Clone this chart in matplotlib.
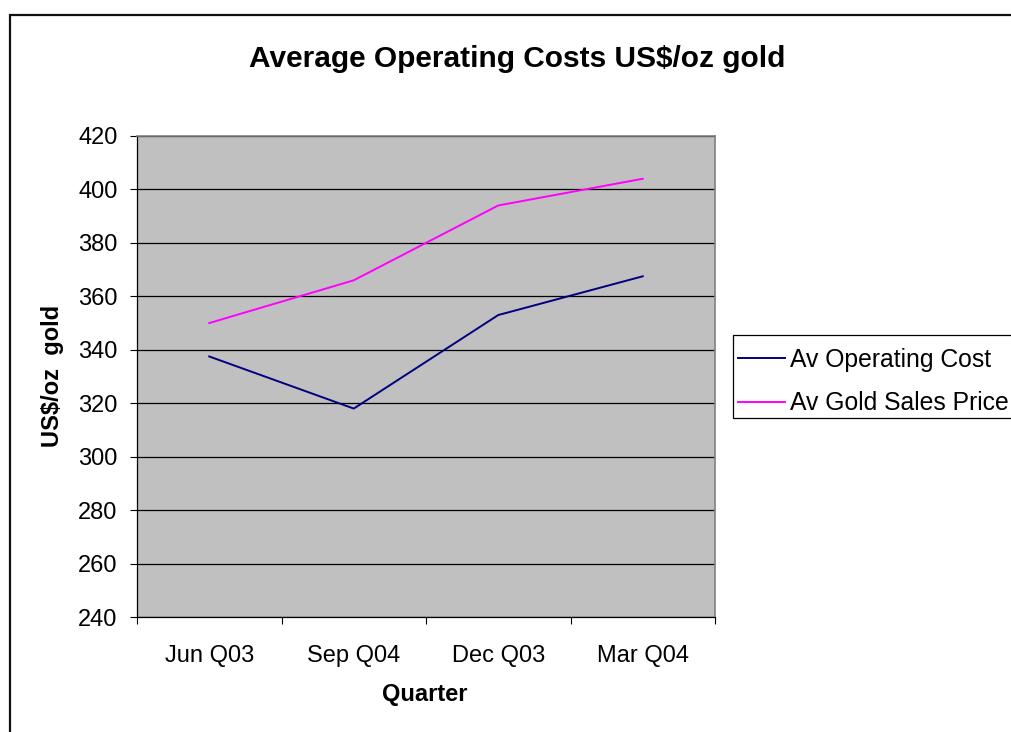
import matplotlib
matplotlib.use("Agg")
import matplotlib.pyplot as plt
from matplotlib.patches import Rectangle
from matplotlib.ticker import FixedLocator, NullFormatter

plt.rcParams['font.family'] = ['Liberation Sans', 'DejaVu Sans']

quarters = ["Jun Q03", "Sep Q04", "Dec Q03", "Mar Q04"]
operating_cost = [337.5, 318, 353, 367.5]
gold_price = [350, 366, 394, 404]
y_ticks = [240, 260, 280, 300, 320, 340, 360, 380, 400, 420]

W, H = 1012, 732
fig = plt.figure(figsize=(W / 100, H / 100), dpi=100)
fig.patch.set_facecolor('white')

# outer chart border (extends beyond right/bottom edges)
fig.patches.append(Rectangle((10 / W, -0.1), 1.2, 1 - 15 / H + 0.1,
                             transform=fig.transFigure, fill=False,
                             edgecolor='#111111', linewidth=1.6))

ax = fig.add_axes([137 / W, 1 - 617 / H, (715 - 137) / W, (617 - 136) / H])
ax.set_facecolor('#C0C0C0')

x = list(range(1, len(quarters) + 1))
ax.plot(x, operating_cost, color='#000080', linewidth=1.4, label='Av Operating Cost')
ax.plot(x, gold_price, color='#FF00FF', linewidth=1.4, label='Av Gold Sales Price')

ax.set_xlim(0.5, len(quarters) + 0.5)
ax.set_ylim(240, 420)
ax.set_yticks(y_ticks)
ax.set_xticks(x)
ax.set_xticklabels(quarters)
ax.xaxis.set_minor_locator(FixedLocator([i + 0.5 for i in range(len(quarters) + 1)]))
ax.xaxis.set_minor_formatter(NullFormatter())

ax.yaxis.grid(True, color='black', linewidth=0.9)
ax.set_axisbelow(True)

ax.tick_params(axis='y', which='major', direction='out', length=5, width=0.8,
               labelsize=17, pad=9, colors='black')
ax.tick_params(axis='x', which='major', length=0, labelsize=17, pad=20)
ax.tick_params(axis='x', which='minor', direction='out', length=5, width=0.8)

for s in ['top', 'right']:
    ax.spines[s].set_color('#808080')
    ax.spines[s].set_linewidth(1.2)
for s in ['left', 'bottom']:
    ax.spines[s].set_color('black')
    ax.spines[s].set_linewidth(0.9)

fig.text(517 / W, 1 - 59 / H, 'Average Operating Costs US$/oz gold',
         ha='center', va='center', fontsize=21.5, fontweight='bold')
fig.text(53 / W, 1 - 376 / H, 'US$/oz  gold', rotation=90,
         ha='center', va='center', fontsize=17, fontweight='bold')
fig.text(425 / W, 1 - 694 / H, 'Quarter', ha='center', va='center',
         fontsize=17, fontweight='bold')

# legend frame (extends past the right edge as in the reference)
fig.patches.append(Rectangle((733 / W, 1 - 418 / H), 0.5, 83 / H,
                             transform=fig.transFigure, facecolor='white',
                             edgecolor='black', linewidth=0.9, zorder=3))
leg = fig.legend(loc='upper left', bbox_to_anchor=(733 / W, 1 - 343 / H),
                 bbox_transform=fig.transFigure, fontsize=17.8,
                 frameon=False, handlelength=1.9, handletextpad=0.2,
                 labelspacing=0.78, borderpad=0.2, borderaxespad=0)
leg.set_zorder(4)

fig.savefig('out.png', dpi=100, facecolor='white')
